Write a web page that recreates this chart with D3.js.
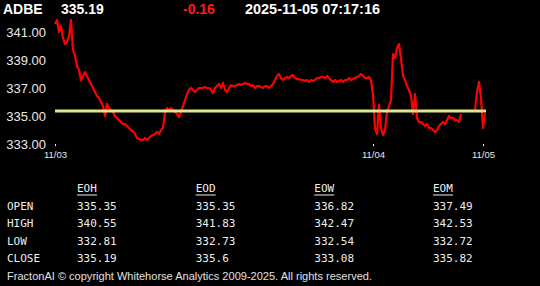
<!DOCTYPE html>
<html>
<head>
<meta charset="utf-8">
<script src="https://cdn.jsdelivr.net/npm/d3@7"></script>
<style>
html,body{margin:0;padding:0;background:#000;}
svg{display:block;}
</style>
</head>
<body>
<svg id="c" width="540" height="286"></svg>
<script>
// ---- data ----
const symbol = "ADBE";
const lastPrice = "335.19";
const change = "-0.16";
const stamp = "2025-11-05 07:17:16";
const refPrice = 335.35;
const yTicks = [333, 335, 337, 339, 341];
const dayLabels = ["11/03", "11/04", "11/05"];
const dayIndex = [0, 159, 214];
const prices = [
 341.57,341.86,341.00,341.43,340.57,340.14,340.29,340.71,341.86,339.71,
 339.29,338.57,338.29,337.57,337.86,338.14,337.86,337.57,337.29,337.00,
 336.71,336.43,336.29,336.00,335.71,335.00,335.86,335.57,335.43,335.29,
 335.00,334.86,334.71,334.57,334.43,334.43,334.29,334.14,334.00,333.93,
 333.71,333.43,333.36,333.29,333.29,333.43,333.29,333.43,333.57,333.64,
 333.71,333.86,333.71,334.00,334.14,335.29,335.57,335.43,335.57,335.43,
 335.29,335.14,334.93,335.29,335.71,336.14,336.57,336.86,337.00,336.86,
 336.71,336.86,337.00,337.00,337.00,337.07,337.00,337.00,336.86,336.64,
 337.00,337.14,337.29,337.00,337.36,336.86,336.71,337.00,337.21,337.14,
 337.14,337.21,337.29,337.21,337.29,337.36,337.29,337.29,337.14,337.21,
 337.00,337.14,337.14,337.07,337.00,337.14,337.14,337.00,337.14,337.29,
 337.57,337.86,338.00,337.71,337.57,337.71,337.79,337.71,337.86,337.93,
 337.71,337.64,337.64,337.57,337.57,337.50,337.57,337.43,337.57,337.50,
 337.57,337.71,337.71,337.79,337.79,337.71,337.86,337.71,337.57,337.43,
 337.57,337.43,337.50,337.57,337.43,337.57,337.57,337.71,337.57,337.64,
 337.71,337.79,337.86,338.00,337.86,337.71,337.71,337.79,337.57,336.50,
 334.14,333.71,335.79,334.14,333.64,334.00,335.29,335.71,336.14,339.43,
 339.14,339.86,340.14,339.14,337.86,337.57,337.14,336.86,336.43,335.14,
 336.57,334.86,334.57,334.57,334.43,334.29,334.43,334.14,334.14,334.00,
 333.86,334.00,334.29,334.43,334.57,334.43,334.71,335.00,334.86,334.86,
 334.71,334.71,334.57,335.14,null,null,null,null,null,null,
 335.43,336.71,337.43,336.29,334.14,335.19
];
const periods = ["EOH", "EOD", "EOW", "EOM"];
const rowNames = ["OPEN", "HIGH", "LOW", "CLOSE"];
const openVals  = ["335.35", "335.35", "336.82", "337.49"];
const highVals  = ["340.55", "341.83", "342.47", "342.53"];
const lowVals   = ["332.81", "332.73", "332.54", "332.72"];
const closeVals = ["335.19", "335.6", "333.08", "335.82"];
const footer = "FractonAI \u00A9 copyright Whitehorse Analytics 2009-2025. All rights reserved.";

// ---- drawing ----
const svg = d3.select("#c");
svg.append("rect").attr("width", 540).attr("height", 286).attr("fill", "#000");

const x = d3.scaleLinear().domain([0, prices.length - 1]).range([55, 485]);
const y = d3.scaleLinear().domain([333, 341]).range([144, 32]);

// header
const hdr = svg.append("g").attr("font-family", "Arial, 'Liberation Sans', sans-serif")
  .attr("font-weight", "bold").attr("font-size", 14);
hdr.append("text").attr("x", 3).attr("y", 14).attr("fill", "#fff").text(symbol);
hdr.append("text").attr("x", 61).attr("y", 14).attr("fill", "#fff").text(lastPrice);
hdr.append("text").attr("x", 183).attr("y", 14).attr("fill", "#ff1a1a").text(change);
hdr.append("text").attr("x", 245).attr("y", 14).attr("fill", "#fff")
  .attr("textLength", 135).attr("lengthAdjust", "spacingAndGlyphs").text(stamp);

// y axis labels
const yAxis = d3.axisLeft(y).tickValues(yTicks).tickFormat(d3.format(".2f")).tickSize(0).tickPadding(0);
const gy = svg.append("g").attr("transform", "translate(46,0)").call(yAxis);
gy.select(".domain").remove();
gy.selectAll("text").attr("fill", "#e8e8e8").attr("font-size", 13)
  .attr("font-family", "Arial, 'Liberation Sans', sans-serif");

// x axis
const xAxis = d3.axisBottom(x).tickValues(dayIndex)
  .tickFormat((d, i) => dayLabels[i]).tickSize(2).tickPadding(5);
const gx = svg.append("g").attr("transform", "translate(0,144)").call(xAxis);
gx.select(".domain").remove();
gx.selectAll("line").attr("stroke", "#fff").attr("stroke-width", 1);
gx.selectAll("text").attr("fill", "#e8e8e8").attr("font-size", 9.5)
  .attr("font-family", "Arial, 'Liberation Sans', sans-serif");

// price line
const line = d3.line().defined(d => d != null).x((d, i) => x(i)).y(d => y(d));
svg.append("path").datum(prices).attr("d", line)
  .attr("fill", "none").attr("stroke", "#ff0000").attr("stroke-width", 2.2)
  .attr("stroke-linejoin", "round");

// reference line
svg.append("line").attr("x1", x(0)).attr("x2", x(prices.length - 1) + 1)
  .attr("y1", y(refPrice)).attr("y2", y(refPrice))
  .attr("stroke", "#dfe68c").attr("stroke-width", 3);

// table
const colX = d3.scalePoint().domain(periods).range([77, 433]);
const rowY = d3.scalePoint().domain(rowNames).range([210, 262]);
const tbl = svg.append("g").attr("font-family", "'DejaVu Sans Mono', monospace")
  .attr("font-size", 11).attr("fill", "#eeeeee");
periods.forEach(p => {
  tbl.append("text").attr("x", colX(p)).attr("y", 192).text(p);
  tbl.append("line").attr("x1", colX(p)).attr("x2", colX(p) + 20)
    .attr("y1", 195).attr("y2", 195).attr("stroke", "#eeeeee").attr("stroke-width", 1);
});
const cols = [openVals, highVals, lowVals, closeVals];
rowNames.forEach((r, ri) => {
  tbl.append("text").attr("x", 7).attr("y", rowY(r)).text(r);
  periods.forEach((p, pi) => {
    tbl.append("text").attr("x", colX(p)).attr("y", rowY(r)).text(cols[ri][pi]);
  });
});

// footer
svg.append("text").attr("x", 7).attr("y", 280)
  .attr("font-family", "Arial, 'Liberation Sans', sans-serif").attr("font-size", 11)
  .attr("fill", "#e0e0e0").attr("textLength", 365).attr("lengthAdjust", "spacingAndGlyphs")
  .text(footer);
</script>
</body>
</html>
